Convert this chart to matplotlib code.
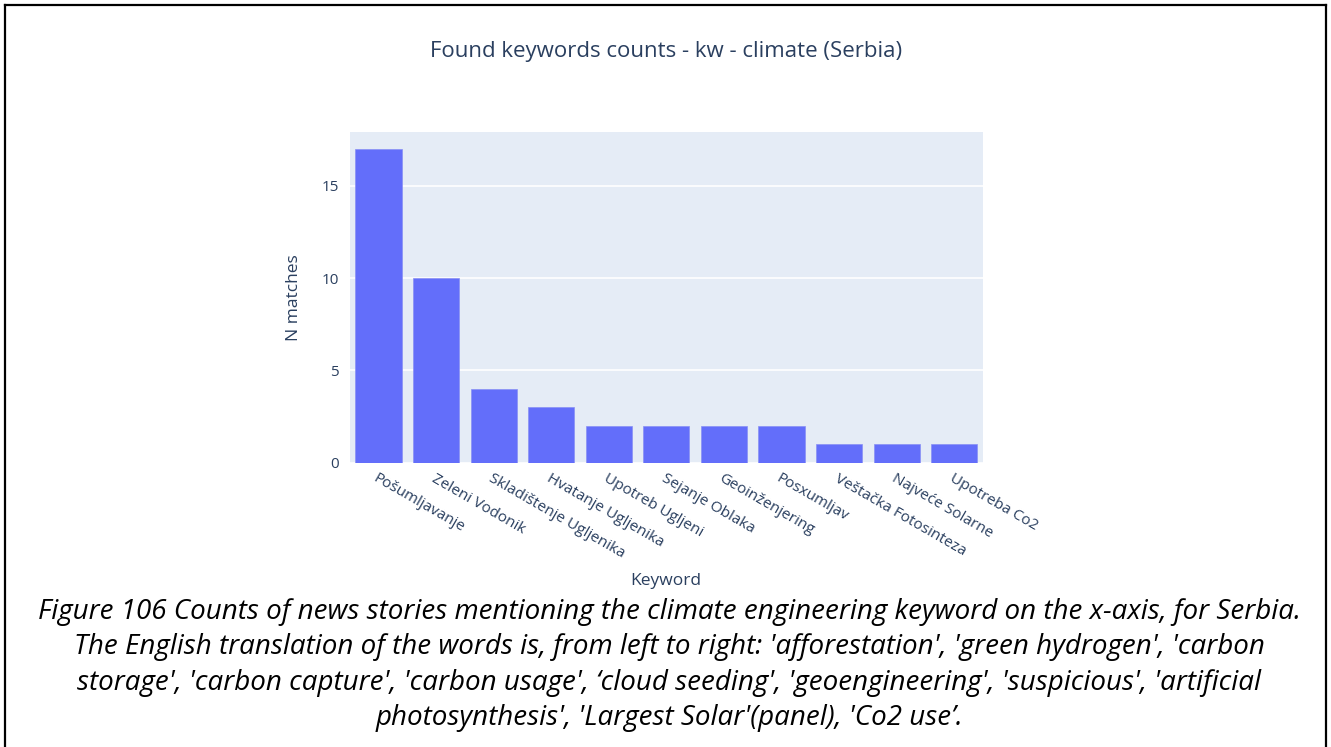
import matplotlib.pyplot as plt
from matplotlib.lines import Line2D

keywords = ["Pošumljavanje", "Zeleni Vodonik", "Skladištenje Ugljenika",
            "Hvatanje Ugljenika", "Upotreb Ugljeni", "Sejanje Oblaka",
            "Geoinženjering", "Posxumljav", "Veštačka Fotosinteza",
            "Najveće Solarne", "Upotreba Co2"]
counts = [17, 10, 4, 3, 2, 2, 2, 2, 1, 1, 1]

title = "Found keywords counts - kw - climate (Serbia)"
caption = ("Figure 106 Counts of news stories mentioning the climate engineering keyword on the x-axis, for Serbia.\n"
           "The English translation of the words is, from left to right: 'afforestation', 'green hydrogen', 'carbon\n"
           "storage', 'carbon capture', 'carbon usage', \u2018cloud seeding', 'geoengineering', 'suspicious', 'artificial\n"
           "photosynthesis', 'Largest Solar'(panel), 'Co2 use\u2019.")

W, H = 1331, 747
txt = "#2a3f5f"
plt.rcParams['font.family'] = ['Open Sans', 'DejaVu Sans']

fig = plt.figure(figsize=(W / 100, H / 100), dpi=100)
ax = fig.add_axes([349.7 / W, 1 - 462.7 / H, 633.3 / W, 330.4 / H])
ax.set_facecolor("#E5ECF6")

x = range(len(keywords))
ax.bar(x, counts, width=0.8, color="#636EFA", edgecolor="#8990f5", linewidth=0.5, zorder=3)
ax.set_xlim(-0.5, len(keywords) - 0.5)
ax.set_ylim(0, 17.89)
ax.set_yticks([0, 5, 10, 15])
ax.grid(axis="y", color="white", linewidth=1.2, zorder=0)
ax.set_axisbelow(True)
for s in ax.spines.values():
    s.set_visible(False)
ax.tick_params(length=0, labelsize=11, labelcolor=txt, pad=8)
ax.set_xticks(list(x))
ax.set_xticklabels(keywords, rotation=-30, ha="left", va="top", rotation_mode="anchor")
ax.tick_params(axis="x", pad=6)

ax.set_ylabel("N matches", fontsize=12.5, color=txt, labelpad=14)
fig.text(666 / W, 1 - 581 / H, "Keyword", fontsize=12.5, color=txt, ha="center", va="center")
fig.text(666 / W, 1 - 52 / H, title, fontsize=16, color=txt, ha="center", va="center")

fig.text(669 / W, 1 - 665 / H, caption, fontsize=20, style="italic", color="black",
         ha="center", va="center", linespacing=1.36)

# frame around the figure (open at the bottom)
lw = 1.6
fig.add_artist(Line2D([4.5 / W, 4.5 / W], [0, 1 - 5 / H], color="black", lw=lw))
fig.add_artist(Line2D([4.5 / W, 1326 / W], [1 - 5 / H, 1 - 5 / H], color="black", lw=lw))
fig.add_artist(Line2D([1326 / W, 1326 / W], [0, 1 - 5 / H], color="black", lw=lw))

fig.savefig("out.png", dpi=100)
